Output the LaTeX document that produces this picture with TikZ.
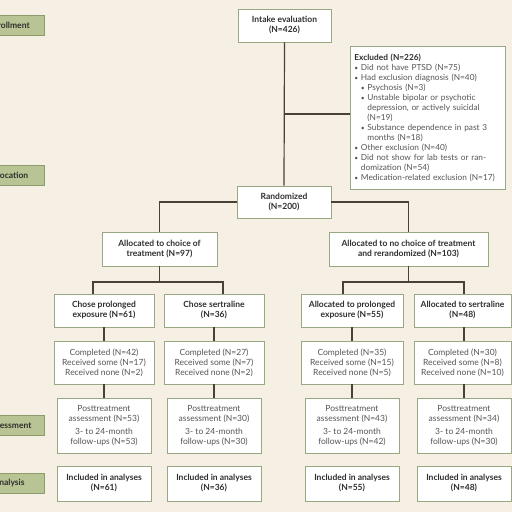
\documentclass[tikz,border=0pt]{standalone}
\usepackage{fontspec}
\setmainfont{Lato}
\definecolor{bg}{HTML}{F6EFE3}
\definecolor{boxline}{HTML}{97A882}
\definecolor{stagefill}{HTML}{B8C493}
\definecolor{stageline}{HTML}{8D9C6C}
\definecolor{linkcol}{HTML}{4A4136}
\definecolor{txt}{HTML}{555555}
\definecolor{head}{HTML}{2E2E2E}
\newcommand{\bul}{\makebox[6.5pt][l]{\raisebox{0.6pt}{\scalebox{0.8}{\textbullet}}}}
\newcommand{\ind}{\hspace*{6.5pt}}
\begin{document}
\begin{tikzpicture}[x=1pt,y=-1pt,
    box/.style={draw=boxline, fill=white, line width=0.9pt, align=center, inner sep=0pt,
        font=\fontsize{8.5}{10}\selectfont, text=txt},
    headbox/.style={box, font=\fontsize{8.5}{10}\selectfont\bfseries, text=head},
    stage/.style={draw=stageline, fill=stagefill, line width=0.9pt, minimum width=70pt,
        minimum height=20pt, font=\fontsize{8.5}{10}\selectfont\bfseries, text=head},
    link/.style={draw=linkcol, line width=1.2pt}]
    \useasboundingbox (0,0) rectangle (512,512);
    \clip (0,0) rectangle (512,512);
    \fill[bg] (0,0) rectangle (512,512);

    % stages
    \node[stage] (senrol) at (9,25) {Enrollment};
    \node[stage] (salloc) at (9,175) {Allocation};
    \node[stage] (sassess) at (9,425) {Assessment};
    \node[stage] (sanaly) at (9,483.5) {Analysis};

    % enrollment
    \node[headbox, minimum width=93pt, minimum height=33pt] (intake) at (284.5,25.5) {Intake evaluation\\(N=426)};
    \node[box, anchor=north west, minimum width=155pt, minimum height=143pt, text width=147pt,
        inner xsep=4pt, align=left, font=\fontsize{8.3}{10}\selectfont] (excl) at (350,46)
        {{\bfseries\color{head}Excluded (N=226)}\\
        \bul Did not have PTSD (N=75)\\
        \bul Had exclusion diagnosis (N=40)\\
        \ind\bul Psychosis (N=3)\\
        \ind\bul Unstable bipolar or psychotic\\
        \ind\ind depression, or actively suicidal\\
        \ind\ind (N=19)\\
        \ind\bul Substance dependence in past 3\\
        \ind\ind months (N=18)\\
        \bul Other exclusion (N=40)\\
        \bul Did not show for lab tests or ran-\\
        \ind domization (N=54)\\
        \bul Medication-related exclusion (N=17)};

    % allocation
    \node[headbox, minimum width=94pt, minimum height=32pt] (rand) at (284,202) {Randomized\\(N=200)};
    \node[headbox, minimum width=115pt, minimum height=34pt] (choice) at (159.5,249) {Allocated to choice of\\treatment (N=97)};
    \node[headbox, minimum width=159pt, minimum height=34pt] (nochoice) at (408.5,249) {Allocated to no choice of treatment\\and rerandomized (N=103)};

    \node[headbox, minimum width=100pt, minimum height=33pt] (cpe) at (104,310.5) {Chose prolonged\\exposure (N=61)};
    \node[headbox, minimum width=100pt, minimum height=33pt] (cser) at (214,310.5) {Chose sertraline\\(N=36)};
    \node[headbox, minimum width=102pt, minimum height=33pt] (ape) at (352,310.5) {Allocated to prolonged\\exposure (N=55)};
    \node[headbox, minimum width=97pt, minimum height=33pt] (aser) at (462.5,310.5) {Allocated to sertraline\\(N=48)};

    % treatment received
    \node[box, minimum width=100pt, minimum height=43pt] (comp1) at (104,362.5) {Completed (N=42)\\Received some (N=17)\\Received none (N=2)};
    \node[box, minimum width=100pt, minimum height=43pt] (comp2) at (214,362.5) {Completed (N=27)\\Received some (N=7)\\Received none (N=2)};
    \node[box, minimum width=102pt, minimum height=43pt] (comp3) at (352,362.5) {Completed (N=35)\\Received some (N=15)\\Received none (N=5)};
    \node[box, minimum width=97pt, minimum height=43pt] (comp4) at (462.5,362.5) {Completed (N=30)\\Received some (N=8)\\Received none (N=10)};

    % assessment
    \node[box, minimum width=94pt, minimum height=55pt] (post1) at (104,425.5) {Posttreatment\\assessment (N=53)\\[3pt]3- to 24-month\\follow-ups (N=53)};
    \node[box, minimum width=94pt, minimum height=55pt] (post2) at (214,425.5) {Posttreatment\\assessment (N=30)\\[3pt]3- to 24-month\\follow-ups (N=30)};
    \node[box, minimum width=94pt, minimum height=55pt] (post3) at (352,425.5) {Posttreatment\\assessment (N=43)\\[3pt]3- to 24-month\\follow-ups (N=42)};
    \node[box, minimum width=94pt, minimum height=55pt] (post4) at (464,425.5) {Posttreatment\\assessment (N=34)\\[3pt]3- to 24-month\\follow-ups (N=30)};

    % analysis
    \node[headbox, minimum width=94pt, minimum height=35pt] (incl1) at (104,483.5) {Included in analyses\\(N=61)};
    \node[headbox, minimum width=94pt, minimum height=35pt] (incl2) at (214,483.5) {Included in analyses\\(N=36)};
    \node[headbox, minimum width=94pt, minimum height=35pt] (incl3) at (352,483.5) {Included in analyses\\(N=55)};
    \node[headbox, minimum width=94pt, minimum height=35pt] (incl4) at (464,483.5) {Included in analyses\\(N=48)};

    % connectors
    \coordinate (exj) at (284.5,114);
    \coordinate (cbl) at (93,282);
    \coordinate (cbr) at (223,282);
    \coordinate (nbl) at (343,282);
    \coordinate (nbr) at (464,282);
    \draw[link] (intake.south) -- (rand.north);
    \draw[link] (exj) -- (exj -| excl.west);
    \draw[link] (rand.west) -| (choice.north);
    \draw[link] (rand.east) -| (nochoice.north);
    \draw[link] (choice.south) -- (choice.south |- cbl);
    \draw[link] (cpe.north -| cbl) -- (cbl) -- (cbr) -- (cser.north -| cbr);
    \draw[link] (nochoice.south) -- (nochoice.south |- nbl);
    \draw[link] (ape.north -| nbl) -- (nbl) -- (nbr) -- (aser.north -| nbr);
    \foreach \a/\b in {cpe/comp1, cser/comp2, ape/comp3, comp1/post1, comp2/post2, comp3/post3}
        \draw[link] (\a.south) -- (\b.north);
    \draw[link] (aser.south -| post4) -- (comp4.north -| post4);
    \draw[link] (comp4.south -| post4) -- (post4.north);
\end{tikzpicture}
\end{document}
